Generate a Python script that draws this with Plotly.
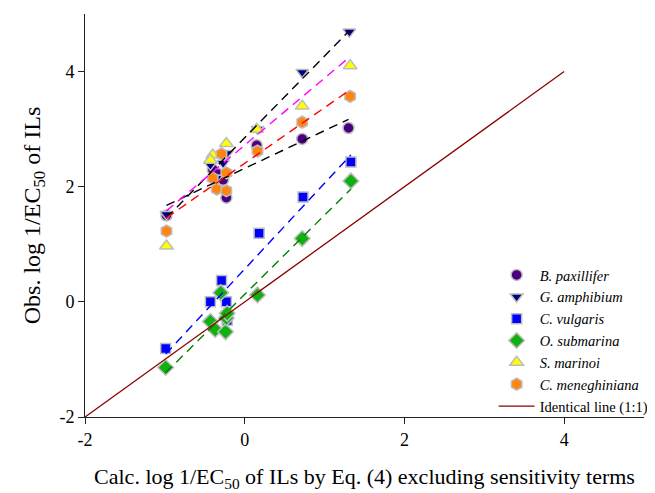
import numpy as np
import plotly.graph_objects as go

# ---- data ----
species = ["B. paxillifer", "G. amphibium", "C. vulgaris", "O. submarina", "S. marinoi", "C. meneghiniana"]

bp_x = [-0.98, -0.40, -0.33, -0.27, -0.23, 0.15, 0.72, 1.30]
bp_y = [1.50, 2.30, 2.22, 2.12, 1.81, 2.72, 2.83, 3.02]

ga_x = [-0.98, -0.43, -0.35, -0.27, -0.22, 0.16, 0.72, 1.31]
ga_y = [1.52, 2.38, 2.15, 2.41, 2.58, 3.00, 3.99, 4.69]

cv_x = [-0.99, -0.43, -0.29, -0.23, -0.22, 0.18, 0.73, 1.33]
cv_y = [-0.81, 0.00, 0.37, 0.00, -0.32, 1.19, 1.82, 2.43]

os_x = [-0.99, -0.43, -0.30, -0.37, -0.24, -0.23, -0.22, 0.16, 0.72, 1.33]
os_y = [-1.14, -0.34, 0.16, -0.48, -0.52, -0.28, -0.20, 0.12, 1.10, 2.10]

sm_x = [-0.98, -0.40, -0.43, -0.23, 0.15, 0.72, 1.32]
sm_y = [0.97, 2.55, 2.46, 2.75, 3.00, 3.40, 4.10]

cm_x = [-0.98, -0.40, -0.35, -0.29, -0.23, -0.23, 0.16, 0.72, 1.32]
cm_y = [1.23, 2.15, 1.96, 2.57, 2.24, 1.93, 2.62, 3.12, 3.57]

identity_x = [-2, 4]
identity_y = [-2, 4]

x_ticks = [-2, 0, 2, 4]
y_ticks = [-2, 0, 2, 4]

# ---- styles ----
series = [
    (species[0], bp_x, bp_y, "circle", "#4B0082", 11, "#000000"),
    (species[1], ga_x, ga_y, "triangle-down", "#000080", 11, "#000000"),
    (species[2], cv_x, cv_y, "square", "#0000FF", 10, "#0000FF"),
    (species[3], os_x, os_y, "diamond", "#11B011", 12, "#008000"),
    (species[4], sm_x, sm_y, "triangle-up", "#FFFF00", 12, "#FF00FF"),
    (species[5], cm_x, cm_y, "hexagon", "#FF8411", 12, "#FF0000"),
]

fig = go.Figure()

for name, xs, ys, sym, col, size, lcol in series:
    fig.add_trace(go.Scatter(
        x=xs, y=ys, mode="markers", name=f"<i>{name}</i>",
        marker=dict(symbol=sym, color=col, size=size,
                    line=dict(color="#BDBDBD", width=1.5)),
    ))

for name, xs, ys, sym, col, size, lcol in series:
    xa = np.array(xs)
    ya = np.array(ys)
    k, b = np.polyfit(xa, ya, 1)
    fx = np.array([xa.min(), xa.max()])
    fig.add_trace(go.Scatter(
        x=fx, y=k * fx + b, mode="lines", showlegend=False, hoverinfo="skip",
        line=dict(color=lcol, width=1.4, dash="9px,6px"),
    ))

fig.add_trace(go.Scatter(
    x=identity_x, y=identity_y, mode="lines", name="Identical line (1:1)",
    line=dict(color="#8B0000", width=1.3),
))

font_family = "Liberation Serif, Times New Roman, serif"

# note: page body adds an 8px offset, margins compensate for it
fig.update_layout(
    width=655, height=493,
    margin=dict(l=77, r=19, t=6, b=84),
    paper_bgcolor="white", plot_bgcolor="white",
    font=dict(family=font_family, color="#000000"),
    showlegend=True,
    legend=dict(x=0.731, y=0.392, xanchor="left", yanchor="top",
                font=dict(family="Liberation Serif", size=14.5, color="#000000"),
                bgcolor="rgba(0,0,0,0)", tracegroupgap=0,
                itemwidth=36),
)

fig.update_xaxes(
    range=[-2, 5], tickvals=x_ticks, ticktext=[str(v) for v in x_ticks],
    showgrid=False, zeroline=False, showline=True, linecolor="#222222", linewidth=1,
    ticks="outside", ticklen=6, tickcolor="#222222",
    tickfont=dict(family=font_family, size=18),
    title=dict(text="Calc. log 1/EC<sub>50</sub> of ILs by Eq. (4) excluding sensitivity terms",
               font=dict(family=font_family, size=22), standoff=20),
)
fig.update_yaxes(
    range=[-2, 5], tickvals=y_ticks, ticktext=[str(v) for v in y_ticks],
    showgrid=False, zeroline=False, showline=True, linecolor="#222222", linewidth=1,
    ticks="outside", ticklen=6, tickcolor="#222222",
    tickfont=dict(family=font_family, size=18),
    title=dict(text="Obs. log 1/EC<sub>50</sub> of ILs",
               font=dict(family=font_family, size=24), standoff=12),
)

fig.write_html("out.html")
